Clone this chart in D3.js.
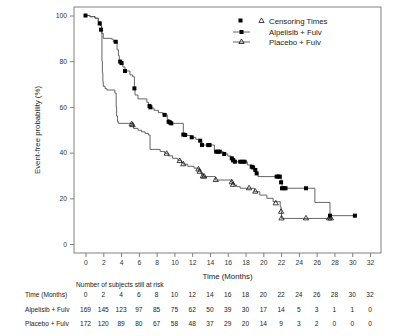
<!DOCTYPE html>
<html>
<head>
<meta charset="utf-8">
<script src="https://cdn.jsdelivr.net/npm/d3@7"></script>
<style>
  body { margin: 0; background: #fff; }
  svg { font-family: "Liberation Sans", Arial, sans-serif; }
</style>
</head>
<body>
<div id="chart"></div>
<script>
// risk table
const riskTimes = [0, 2, 4, 6, 8, 10, 12, 14, 16, 18, 20, 22, 24, 26, 28, 30, 32];
const riskAlpelisib = [169, 145, 123, 97, 85, 75, 62, 50, 39, 30, 17, 14, 5, 3, 1, 1, 0];
const riskPlacebo = [172, 120, 89, 80, 67, 58, 48, 37, 29, 20, 14, 9, 3, 2, 0, 0, 0];
const yTicks = [0, 20, 40, 60, 80, 100];

// KM steps [months, %]
const alpelisibSteps = [
  [0, 100], [0.5, 99.5], [1.07, 98.8], [1.44, 97.3], [1.7, 95.5], [1.82, 92.2], [2.0, 90],
  [2.95, 89.6], [3.13, 88.5], [3.55, 85], [3.7, 82.5], [3.8, 80.5], [3.95, 79.5], [4.2, 77.5],
  [4.44, 75.7], [5.0, 74], [5.3, 73.2], [5.5, 68.1], [5.57, 65.2], [5.9, 63.5], [6.9, 62],
  [7.1, 60.4], [7.3, 59.5], [7.7, 58.5], [8.2, 57.5], [8.7, 56.5], [9.2, 54.5], [9.4, 53.5],
  [9.7, 52.8], [11.0, 48.4], [11.4, 47.5], [11.9, 46.7], [12.4, 45.8], [12.9, 45.2],
  [13.07, 43.3], [14.5, 40.4], [15.5, 39.4], [16.0, 38.5], [16.4, 37.5], [16.8, 36],
  [18.2, 34.6], [18.7, 33.8], [19.0, 32.4], [19.2, 30.9], [19.4, 29.5], [22.0, 27],
  [22.1, 24.4], [25.8, 18.2], [27.5, 12.4], [30.3, 12.4]
];
const alpelisibCensor = [
  [0, 100], [1.6, 96.5], [1.75, 93.8], [3.4, 88.5], [3.9, 79.8], [4.05, 79.2], [4.44, 75.7],
  [5.5, 68.1], [7.2, 60.4], [7.3, 59.8], [8.9, 56.5], [9.35, 53.5], [9.5, 53.2], [9.65, 52.8],
  [11.0, 47.9], [11.2, 47.7], [11.95, 46.7], [12.9, 45.2], [13.1, 43.3], [13.8, 43.3],
  [13.95, 43.3], [14.7, 40.4], [14.9, 40.4], [15.1, 40.4], [15.6, 39.4], [16.45, 37.5],
  [16.6, 36.6], [16.8, 36], [17.4, 36], [17.65, 36], [17.9, 36], [18.7, 33.8], [18.85, 33.5],
  [19.1, 32.4], [19.25, 30.9], [21.5, 29.5], [21.7, 29.5], [21.85, 29.5], [22.0, 27],
  [22.1, 24.4], [22.3, 24.4], [22.5, 24.4], [24.8, 24.4], [27.5, 12.4], [30.3, 12.4]
];

const placeboSteps = [
  [0, 100], [0.5, 99.5], [1.07, 98.8], [1.44, 97.3], [1.7, 95.5], [1.8, 93], [1.85, 80],
  [1.9, 75], [1.95, 71], [2.0, 69], [2.2, 68], [2.4, 67.4], [3.3, 66], [3.45, 60], [3.5, 56],
  [3.6, 53.5], [3.7, 52.8], [5.3, 52], [5.4, 50.6], [5.9, 49.8], [6.3, 49.1], [6.7, 48.4],
  [7.07, 47.7], [7.26, 41.4], [8.4, 40.5], [8.9, 39.7], [9.3, 38.6], [9.8, 37.5], [10.4, 36.6],
  [10.8, 35.6], [11.0, 34.9], [11.5, 34], [12.2, 33.2], [12.7, 32.4], [12.9, 31.4],
  [13.07, 30.2], [13.25, 29.5], [14.6, 28], [16.4, 27], [16.6, 25.8], [17.0, 25.1],
  [17.4, 24.4], [19.0, 22.9], [19.6, 21.4], [20.4, 20], [21.1, 18.5], [21.9, 16.3],
  [22.0, 14.1], [22.05, 11.2], [27.8, 11.2]
];
const placeboCensor = [
  [5.2, 52.4], [5.3, 52], [9.13, 39.5], [10.6, 36.3], [11.0, 34.9], [12.7, 32.6],
  [12.85, 31.6], [13.2, 29.6], [13.35, 29.5], [14.65, 28], [16.45, 27], [16.6, 25.9],
  [18.4, 24.4], [19.1, 22.9], [21.4, 17.8], [22.0, 14.1], [22.05, 11.2], [24.8, 11.2],
  [27.4, 11.2], [27.6, 11.2]
];

const svg = d3.select('#chart').append('svg')
  .attr('width', 400)
  .attr('height', 336);

const frame = { left: 74, top: 7, right: 381, bottom: 253 };

const x = d3.scaleLinear().domain([0, 32]).range([85.5, 370]);
const y = d3.scaleLinear().domain([0, 100]).range([244, 15.5]);

svg.append('rect')
  .attr('x', frame.left)
  .attr('y', frame.top)
  .attr('width', frame.right - frame.left)
  .attr('height', frame.bottom - frame.top)
  .attr('fill', 'none')
  .attr('stroke', '#808080')
  .attr('stroke-width', 1);

const yAxis = svg.append('g')
  .attr('transform', 'translate(' + frame.left + ',0)')
  .call(d3.axisLeft(y).tickValues(yTicks).tickSize(4).tickPadding(3));
yAxis.select('.domain').remove();

const xAxis = svg.append('g')
  .attr('transform', 'translate(0,' + frame.bottom + ')')
  .call(d3.axisBottom(x).tickValues(riskTimes).tickSize(4).tickPadding(3));
xAxis.select('.domain').remove();

svg.selectAll('.tick line').attr('stroke', '#808080');
svg.selectAll('.tick text')
  .attr('font-size', '6.8px')
  .attr('fill', '#333')
  .attr('font-family', '"Liberation Sans", Arial, sans-serif');

svg.append('text')
  .attr('transform', 'translate(40,' + ((frame.top + frame.bottom) / 2) + ') rotate(-90)')
  .attr('text-anchor', 'middle')
  .attr('font-size', '7.8px')
  .attr('fill', '#222')
  .text('Event-free probability (%)');

svg.append('text')
  .attr('x', (frame.left + frame.right) / 2)
  .attr('y', 279)
  .attr('text-anchor', 'middle')
  .attr('font-size', '7.8px')
  .attr('fill', '#222')
  .text('Time (Months)');

// curves
const line = d3.line()
  .x(d => x(d[0]))
  .y(d => y(d[1]))
  .curve(d3.curveStepAfter);

svg.append('path')
  .datum(placeboSteps)
  .attr('d', line)
  .attr('fill', 'none')
  .attr('stroke', '#555')
  .attr('stroke-width', 0.9);

svg.append('path')
  .datum(alpelisibSteps)
  .attr('d', line)
  .attr('fill', 'none')
  .attr('stroke', '#555')
  .attr('stroke-width', 0.9);

const tri = d3.symbol().type(d3.symbolTriangle).size(12);

svg.selectAll('.cens-p')
  .data(placeboCensor)
  .enter().append('path')
  .attr('class', 'cens-p')
  .attr('d', tri)
  .attr('transform', d => 'translate(' + x(d[0]) + ',' + y(d[1]) + ')')
  .attr('fill', 'none')
  .attr('stroke', '#111')
  .attr('stroke-width', 0.8);

svg.selectAll('.cens-a')
  .data(alpelisibCensor)
  .enter().append('rect')
  .attr('class', 'cens-a')
  .attr('x', d => x(d[0]) - 2)
  .attr('y', d => y(d[1]) - 2)
  .attr('width', 4)
  .attr('height', 4)
  .attr('fill', '#000');

// legend
const lg = svg.append('g').attr('font-size', '7.8px').attr('fill', '#222');
lg.append('rect').attr('x', 238.5).attr('y', 18.5).attr('width', 4).attr('height', 4).attr('fill', '#000');
lg.append('path').attr('d', tri).attr('transform', 'translate(261.5,21)')
  .attr('fill', 'none').attr('stroke', '#111').attr('stroke-width', 0.8);
lg.append('text').attr('x', 269).attr('y', 23.5).text('Censoring Times');

lg.append('line').attr('x1', 233).attr('x2', 250).attr('y1', 32).attr('y2', 32)
  .attr('stroke', '#555').attr('stroke-width', 0.9);
lg.append('rect').attr('x', 239.5).attr('y', 30).attr('width', 4).attr('height', 4).attr('fill', '#000');
lg.append('text').attr('x', 269).attr('y', 34.5).text('Alpelisib + Fulv');

lg.append('line').attr('x1', 233).attr('x2', 250).attr('y1', 42).attr('y2', 42)
  .attr('stroke', '#555').attr('stroke-width', 0.9);
lg.append('path').attr('d', tri).attr('transform', 'translate(241.5,42)')
  .attr('fill', 'none').attr('stroke', '#111').attr('stroke-width', 0.8);
lg.append('text').attr('x', 269).attr('y', 44.5).text('Placebo + Fulv');

// risk table
const tbl = svg.append('g').attr('font-size', '6.6px').attr('fill', '#222');
tbl.append('text').attr('x', 76).attr('y', 286.5).text('Number of subjects still at risk');

const rows = [
  { label: 'Time (Months)', values: riskTimes, yy: 296.5 },
  { label: 'Alpelisib + Fulv', values: riskAlpelisib, yy: 311.5 },
  { label: 'Placebo + Fulv', values: riskPlacebo, yy: 325.5 }
];

rows.forEach(r => {
  tbl.append('text').attr('x', 25).attr('y', r.yy).text(r.label);
  tbl.selectAll(null)
    .data(r.values)
    .enter().append('text')
    .attr('x', (d, i) => x(riskTimes[i]))
    .attr('y', r.yy)
    .attr('text-anchor', 'middle')
    .text(d => d);
});
</script>
</body>
</html>
